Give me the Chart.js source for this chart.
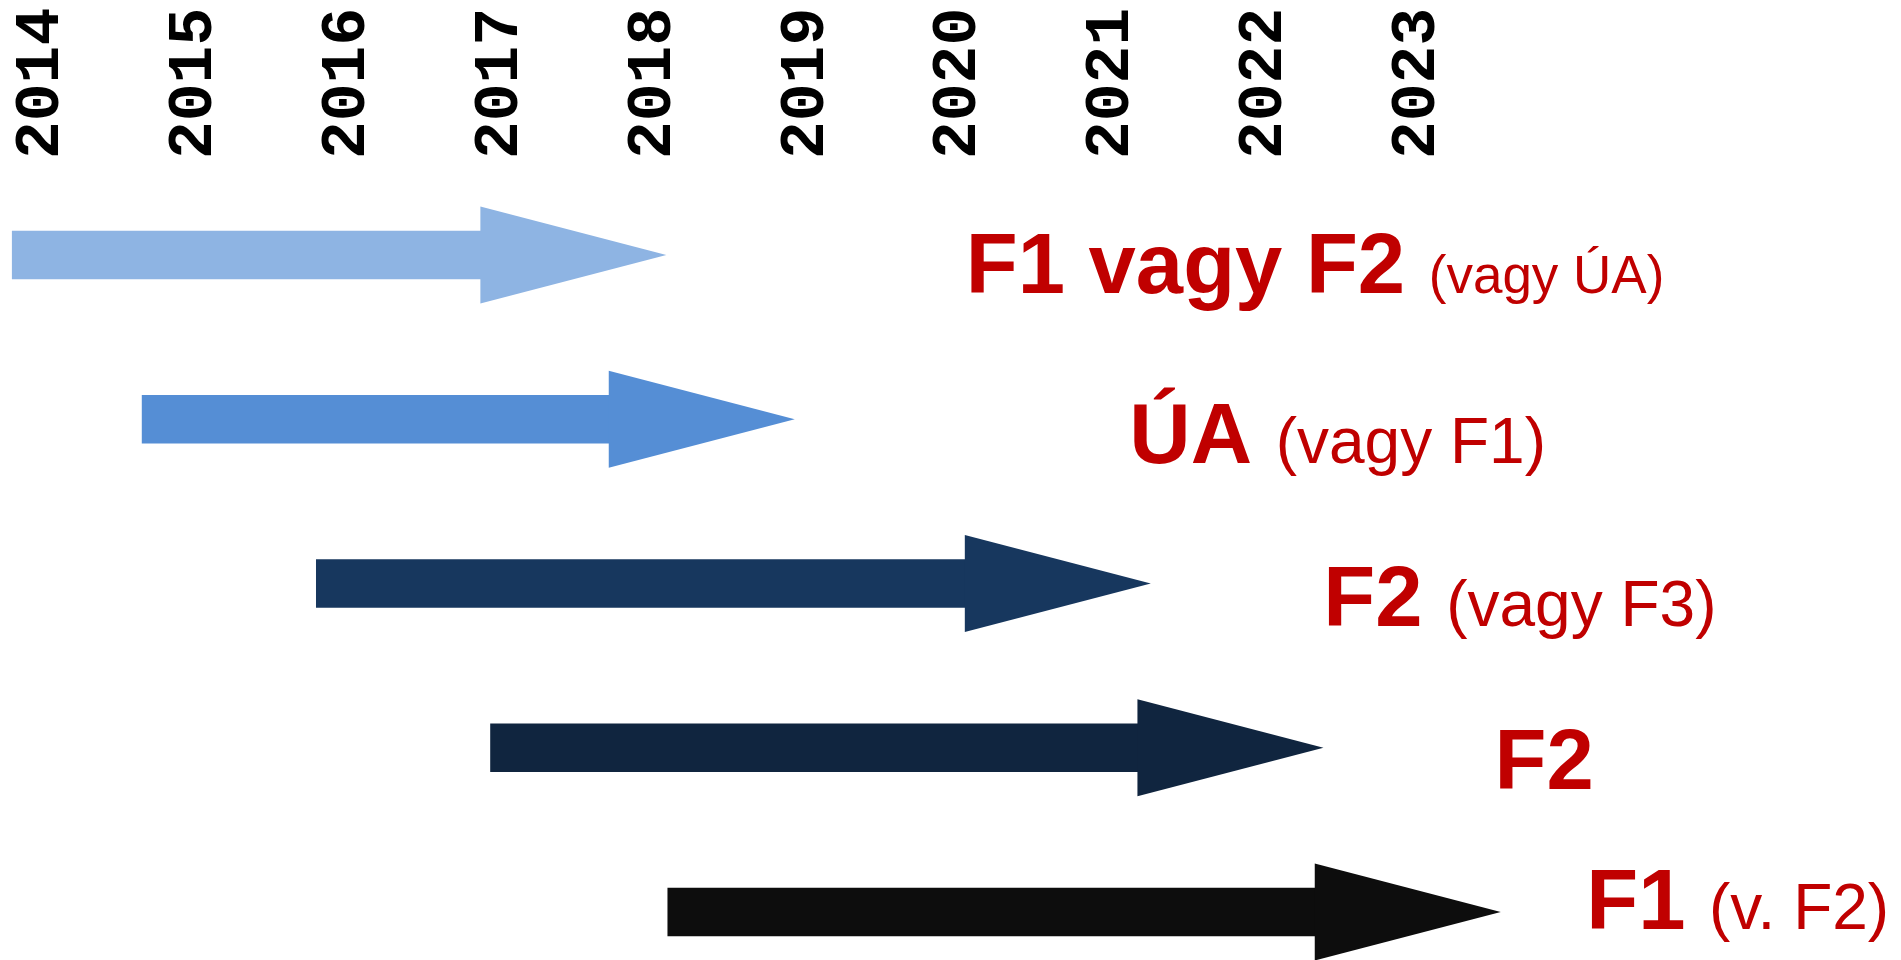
<!DOCTYPE html>
<html>
<head>
<meta charset="utf-8">
<script src="https://cdn.jsdelivr.net/npm/chart.js@4.4.1/dist/chart.umd.min.js"></script>
<style>
  html, body { margin: 0; padding: 0; background: #fff; }
  #wrap { width: 1901px; height: 960px; }
</style>
</head>
<body>
<div id="wrap"><canvas id="timeline"></canvas></div>
<script>
// timeline data (years)
var years = [2014, 2015, 2016, 2017, 2018, 2019, 2020, 2021, 2022, 2023];
var rows = ['r1', 'r2', 'r3', 'r4', 'r5'];
var shaftStart = [2013.83, 2014.68, 2015.82, 2016.96, 2018.12];
var shaftEnd = [2016.90, 2017.74, 2020.07, 2021.20, 2022.36];
var mainLabels = ['F1 vagy F2', 'ÚA', 'F2', 'F2', 'F1'];
var noteLabels = ['(vagy ÚA)', '(vagy F1)', '(vagy F3)', '', '(v. F2)'];
var labelAt = [2020.07, 2021.14, 2022.41, 2023.53, 2024.13];

var arrowColors = ['#8EB4E3', '#558ED5', '#17375E', '#10253F', '#0D0D0D'];
var noteSizes = [53, 64, 64, 64, 64];
var labelDy = [38, 44, 42, 41, 17];

// arrow heads + red texts drawn on top of the bars
var arrowHeads = {
  id: 'arrowHeads',
  afterDatasetsDraw: function (chart) {
    var ctx = chart.ctx;
    var meta = chart.getDatasetMeta(0);
    var xs = chart.scales.x;
    ctx.save();
    meta.data.forEach(function (bar, i) {
      var x = Math.max(bar.x, bar.base);
      var y = bar.y;
      ctx.fillStyle = arrowColors[i];
      ctx.beginPath();
      ctx.moveTo(x - 1, y - 48.5);
      ctx.lineTo(x + 185, y);
      ctx.lineTo(x - 1, y + 48.5);
      ctx.closePath();
      ctx.fill();

      var tx = xs.getPixelForValue(labelAt[i]);
      var ty = y + labelDy[i];
      ctx.fillStyle = '#C00000';
      ctx.textBaseline = 'alphabetic';
      ctx.textAlign = 'left';
      ctx.font = 'bold 85px "Liberation Sans", Arial, sans-serif';
      var big = mainLabels[i] + ' ';
      ctx.fillText(big, tx, ty);
      if (noteLabels[i]) {
        var w = ctx.measureText(big).width;
        ctx.font = noteSizes[i] + 'px "Liberation Sans", Arial, sans-serif';
        ctx.fillText(noteLabels[i], tx + w, ty);
      }
    });
    ctx.restore();
  }
};

var ctx = document.getElementById('timeline').getContext('2d');
var chart = new Chart(ctx, {
  type: 'bar',
  data: {
    labels: rows,
    datasets: [{
      data: rows.map(function (r, i) { return [shaftStart[i], shaftEnd[i]]; }),
      backgroundColor: arrowColors,
      borderWidth: 0,
      barThickness: 48,
      clip: false
    }]
  },
  options: {
    indexAxis: 'y',
    responsive: true,
    maintainAspectRatio: false,
    animation: false,
    layout: {
      padding: { top: 0, bottom: 48, left: 0, right: 0 }
    },
    plugins: {
      legend: { display: false },
      tooltip: { enabled: false }
    },
    scales: {
      x: {
        type: 'linear',
        position: 'top',
        min: 2013.75,
        max: 2026.19,
        grid: { display: false, drawTicks: false },
        border: { display: false },
        afterBuildTicks: function (scale) {
          scale.ticks = years.map(function (v) { return { value: v }; });
        },
        afterFit: function (scale) {
          scale.height = 255;
          scale.paddingLeft = 0;
          scale.paddingRight = 0;
        },
        ticks: {
          autoSkip: false,
          minRotation: 90,
          maxRotation: 90,
          padding: 96,
          labelOffset: 80,
          color: '#000',
          font: { family: '"Liberation Mono", monospace', weight: 'bold', size: 63 },
          callback: function (v) { return String(v); }
        }
      },
      y: {
        display: false,
        offset: false,
        grid: { display: false }
      }
    }
  },
  plugins: [arrowHeads]
});
</script>
</body>
</html>
